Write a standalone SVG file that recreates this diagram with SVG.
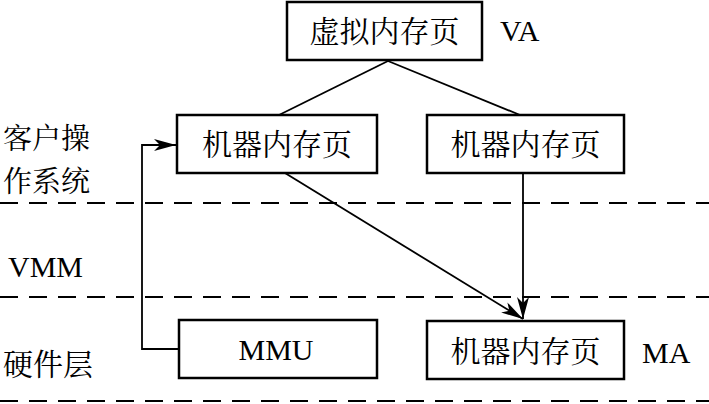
<svg xmlns="http://www.w3.org/2000/svg" width="709" height="404" viewBox="0 0 709 404">
<defs>
<style>
.box{fill:#fff;stroke:#000;stroke-width:2.5}
.cn{font-family:"Noto Serif CJK SC","Noto Sans CJK SC",serif;font-size:30px;fill:#000}
.en{font-family:"Liberation Serif",serif;font-size:30px;fill:#000}
.side{font-size:29px}
.ln{stroke:#000;stroke-width:1.8;fill:none}
.dash{stroke:#000;stroke-width:2;stroke-dasharray:18,11;fill:none}
</style>
<marker id="ah" viewBox="0 0 22 12" refX="22" refY="6" markerWidth="22" markerHeight="12" markerUnits="userSpaceOnUse" orient="auto">
<path d="M0,0 L22,6 L0,12 L6,6 Z" fill="#000"/>
</marker>
</defs>
<rect width="709" height="404" fill="#fff"/>
<g id="separators">
<line class="dash" x1="0" y1="203" x2="709" y2="203"/>
<line class="dash" x1="0" y1="297" x2="709" y2="297"/>
<line class="dash" x1="0" y1="401" x2="709" y2="401"/>
</g>
<g id="connectors">
<line class="ln" x1="388" y1="61" x2="279" y2="115"/>
<line class="ln" x1="388" y1="61" x2="520" y2="115"/>
<line class="ln" x1="285" y1="173" x2="523" y2="319" marker-end="url(#ah)"/>
<line class="ln" x1="523" y1="173" x2="523" y2="319" marker-end="url(#ah)"/>
<polyline class="ln" points="179,349 142,349 142,145 176,145" marker-end="url(#ah)"/>
</g>
<g id="n_va">
<rect class="box" x="287" y="2" width="195" height="58"/>
<text class="cn" x="384.5" y="42" text-anchor="middle">虚拟内存页</text>
</g>
<g id="n_gm1">
<rect class="box" x="177" y="115" width="200" height="58"/>
<text class="cn" x="277" y="155" text-anchor="middle">机器内存页</text>
</g>
<g id="n_gm2">
<rect class="box" x="427" y="115" width="197" height="58"/>
<text class="cn" x="525.5" y="155" text-anchor="middle">机器内存页</text>
</g>
<g id="n_mmu">
<rect class="box" x="179" y="320" width="198" height="58"/>
<text class="en" x="276" y="360" text-anchor="middle">MMU</text>
</g>
<g id="n_ma">
<rect class="box" x="427" y="321" width="197" height="58"/>
<text class="cn" x="525.5" y="362" text-anchor="middle">机器内存页</text>
</g>
<g id="labels">
<text class="en" x="500" y="41">VA</text>
<text class="en" x="642" y="363">MA</text>
<text class="cn side" x="3" y="149">客户操</text>
<text class="cn side" x="3" y="192">作系统</text>
<text class="en" x="8" y="277">VMM</text>
<text class="cn" x="3" y="375">硬件层</text>
</g>
</svg>
